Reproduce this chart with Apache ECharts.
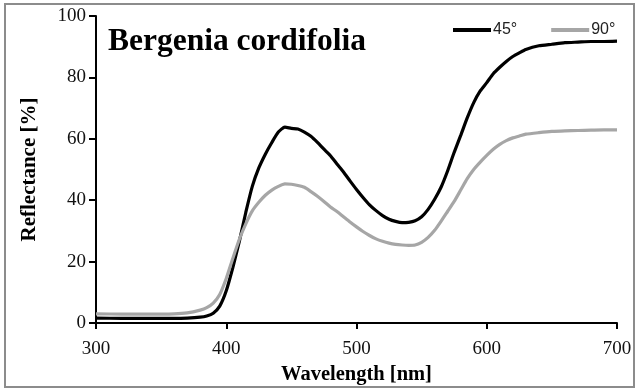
<!DOCTYPE html>
<html>
<head>
<meta charset="utf-8">
<script src="https://cdn.jsdelivr.net/npm/echarts@6/dist/echarts.min.js"></script>
<style>
  html, body { margin: 0; padding: 0; background: #fff; }
  #chart { width: 640px; height: 390px; }
</style>
</head>
<body>
<div id="chart"></div>
<script>
// Leaf reflectance spectra of Bergenia cordifolia at two viewing angles
const wavelengths = [300, 320, 340, 360, 370, 380, 385, 390, 395, 400, 405, 410, 415, 420, 425, 430, 435, 440, 445, 450,
  455, 460, 465, 470, 475, 480, 485, 490, 495, 500, 505, 510, 515, 520, 525, 530, 535, 540, 545, 550,
  555, 560, 565, 570, 575, 580, 585, 590, 595, 600, 605, 610, 615, 620, 625, 630, 640, 650, 660, 670, 680, 690, 700];

const refl45 = [1.6, 1.5, 1.5, 1.5, 1.6, 1.9, 2.3, 3.2, 5.5, 10.5, 18.0, 26.5, 36.0, 44.5, 50.5, 55.0, 58.8, 62.2, 63.8, 63.4,
  63.2, 62.2, 60.8, 58.8, 56.6, 54.5, 51.8, 49.2, 46.3, 43.5, 40.9, 38.5, 36.6, 35.0, 33.8, 33.1, 32.7, 32.8, 33.3, 34.6,
  37.0, 40.3, 44.3, 49.6, 55.6, 61.1, 66.8, 71.8, 75.6, 78.3, 81.2, 83.3, 85.2, 86.8, 88.0, 89.1, 90.3, 90.8, 91.3, 91.5, 91.7, 91.7, 91.8];

const refl90 = [3.0, 2.9, 2.9, 3.0, 3.3, 4.2, 5.0, 6.5, 9.3, 14.5, 21.0, 27.2, 32.3, 36.5, 39.3, 41.6, 43.3, 44.5, 45.3, 45.2,
  44.8, 44.2, 42.8, 41.3, 39.6, 37.8, 36.3, 34.6, 32.9, 31.3, 29.8, 28.5, 27.4, 26.6, 26.0, 25.6, 25.4, 25.3, 25.4, 26.3,
  27.9, 30.2, 33.2, 36.4, 39.6, 43.3, 47.0, 50.0, 52.4, 54.6, 56.6, 58.2, 59.4, 60.3, 60.9, 61.5, 62.0, 62.4, 62.6, 62.7, 62.8, 62.9, 62.9];

const seriesNames = ['45°', '90°'];
const seriesColors = ['#000000', '#a6a6a6'];
const xTicks = [300, 400, 500, 600, 700];
const yTicks = [0, 20, 40, 60, 80, 100];

const pairs = (ys) => wavelengths.map((w, i) => [w, ys[i]]);

const serif = 'Liberation Serif, Times New Roman, serif';

const chart = echarts.init(document.getElementById('chart'), null, { renderer: 'canvas' });

chart.setOption({
  animation: false,
  backgroundColor: '#ffffff',
  title: {
    text: 'Bergenia cordifolia',
    left: 103,
    top: 21,
    textStyle: { fontFamily: serif, fontWeight: 'bold', fontSize: 31.5, color: '#000' }
  },
  legend: {
    data: seriesNames,
    left: 448,
    top: 17,
    icon: 'rect',
    itemWidth: 38,
    itemHeight: 4,
    itemGap: 34,
    textStyle: { fontFamily: 'Liberation Sans, Arial, sans-serif', fontSize: 16, color: '#222', padding: [0, 0, 0, -3] }
  },
  graphic: [{
    type: 'rect',
    shape: { x: 5, y: 4, width: 629, height: 383 },
    style: { fill: 'none', stroke: '#8c8c8c', lineWidth: 2 },
    silent: true,
    z: -1
  }],
  grid: { left: 96, right: 23, top: 16, bottom: 64 },
  xAxis: {
    type: 'value',
    min: xTicks[0],
    max: xTicks[xTicks.length - 1],
    interval: xTicks[1] - xTicks[0],
    name: 'Wavelength [nm]',
    nameLocation: 'middle',
    nameGap: 41,
    nameTextStyle: { fontFamily: serif, fontWeight: 'bold', fontSize: 20.5, color: '#000' },
    axisLine: { lineStyle: { color: '#000', width: 2 } },
    axisTick: { show: true, length: 6, lineStyle: { color: '#000', width: 2 } },
    axisLabel: { fontFamily: serif, fontSize: 19, color: '#111', margin: 17 },
    splitLine: { show: false }
  },
  yAxis: {
    type: 'value',
    min: yTicks[0],
    max: yTicks[yTicks.length - 1],
    interval: yTicks[1] - yTicks[0],
    name: 'Reflectance [%]',
    nameLocation: 'middle',
    nameGap: 56,
    nameTextStyle: { fontFamily: serif, fontWeight: 'bold', fontSize: 21, color: '#000' },
    axisLine: { show: true, lineStyle: { color: '#000', width: 2 } },
    axisTick: { show: true, length: 7, lineStyle: { color: '#000', width: 2 } },
    axisLabel: { fontFamily: serif, fontSize: 19, color: '#111', margin: 10 },
    splitLine: { show: false }
  },
  series: [
    {
      name: seriesNames[0],
      type: 'line',
      data: pairs(refl45),
      showSymbol: false,
      smooth: 0.2,
      color: seriesColors[0],
      lineStyle: { color: seriesColors[0], width: 3.2 }
    },
    {
      name: seriesNames[1],
      type: 'line',
      data: pairs(refl90),
      showSymbol: false,
      smooth: 0.2,
      color: seriesColors[1],
      lineStyle: { color: seriesColors[1], width: 3.2 }
    }
  ]
});
</script>
</body>
</html>
